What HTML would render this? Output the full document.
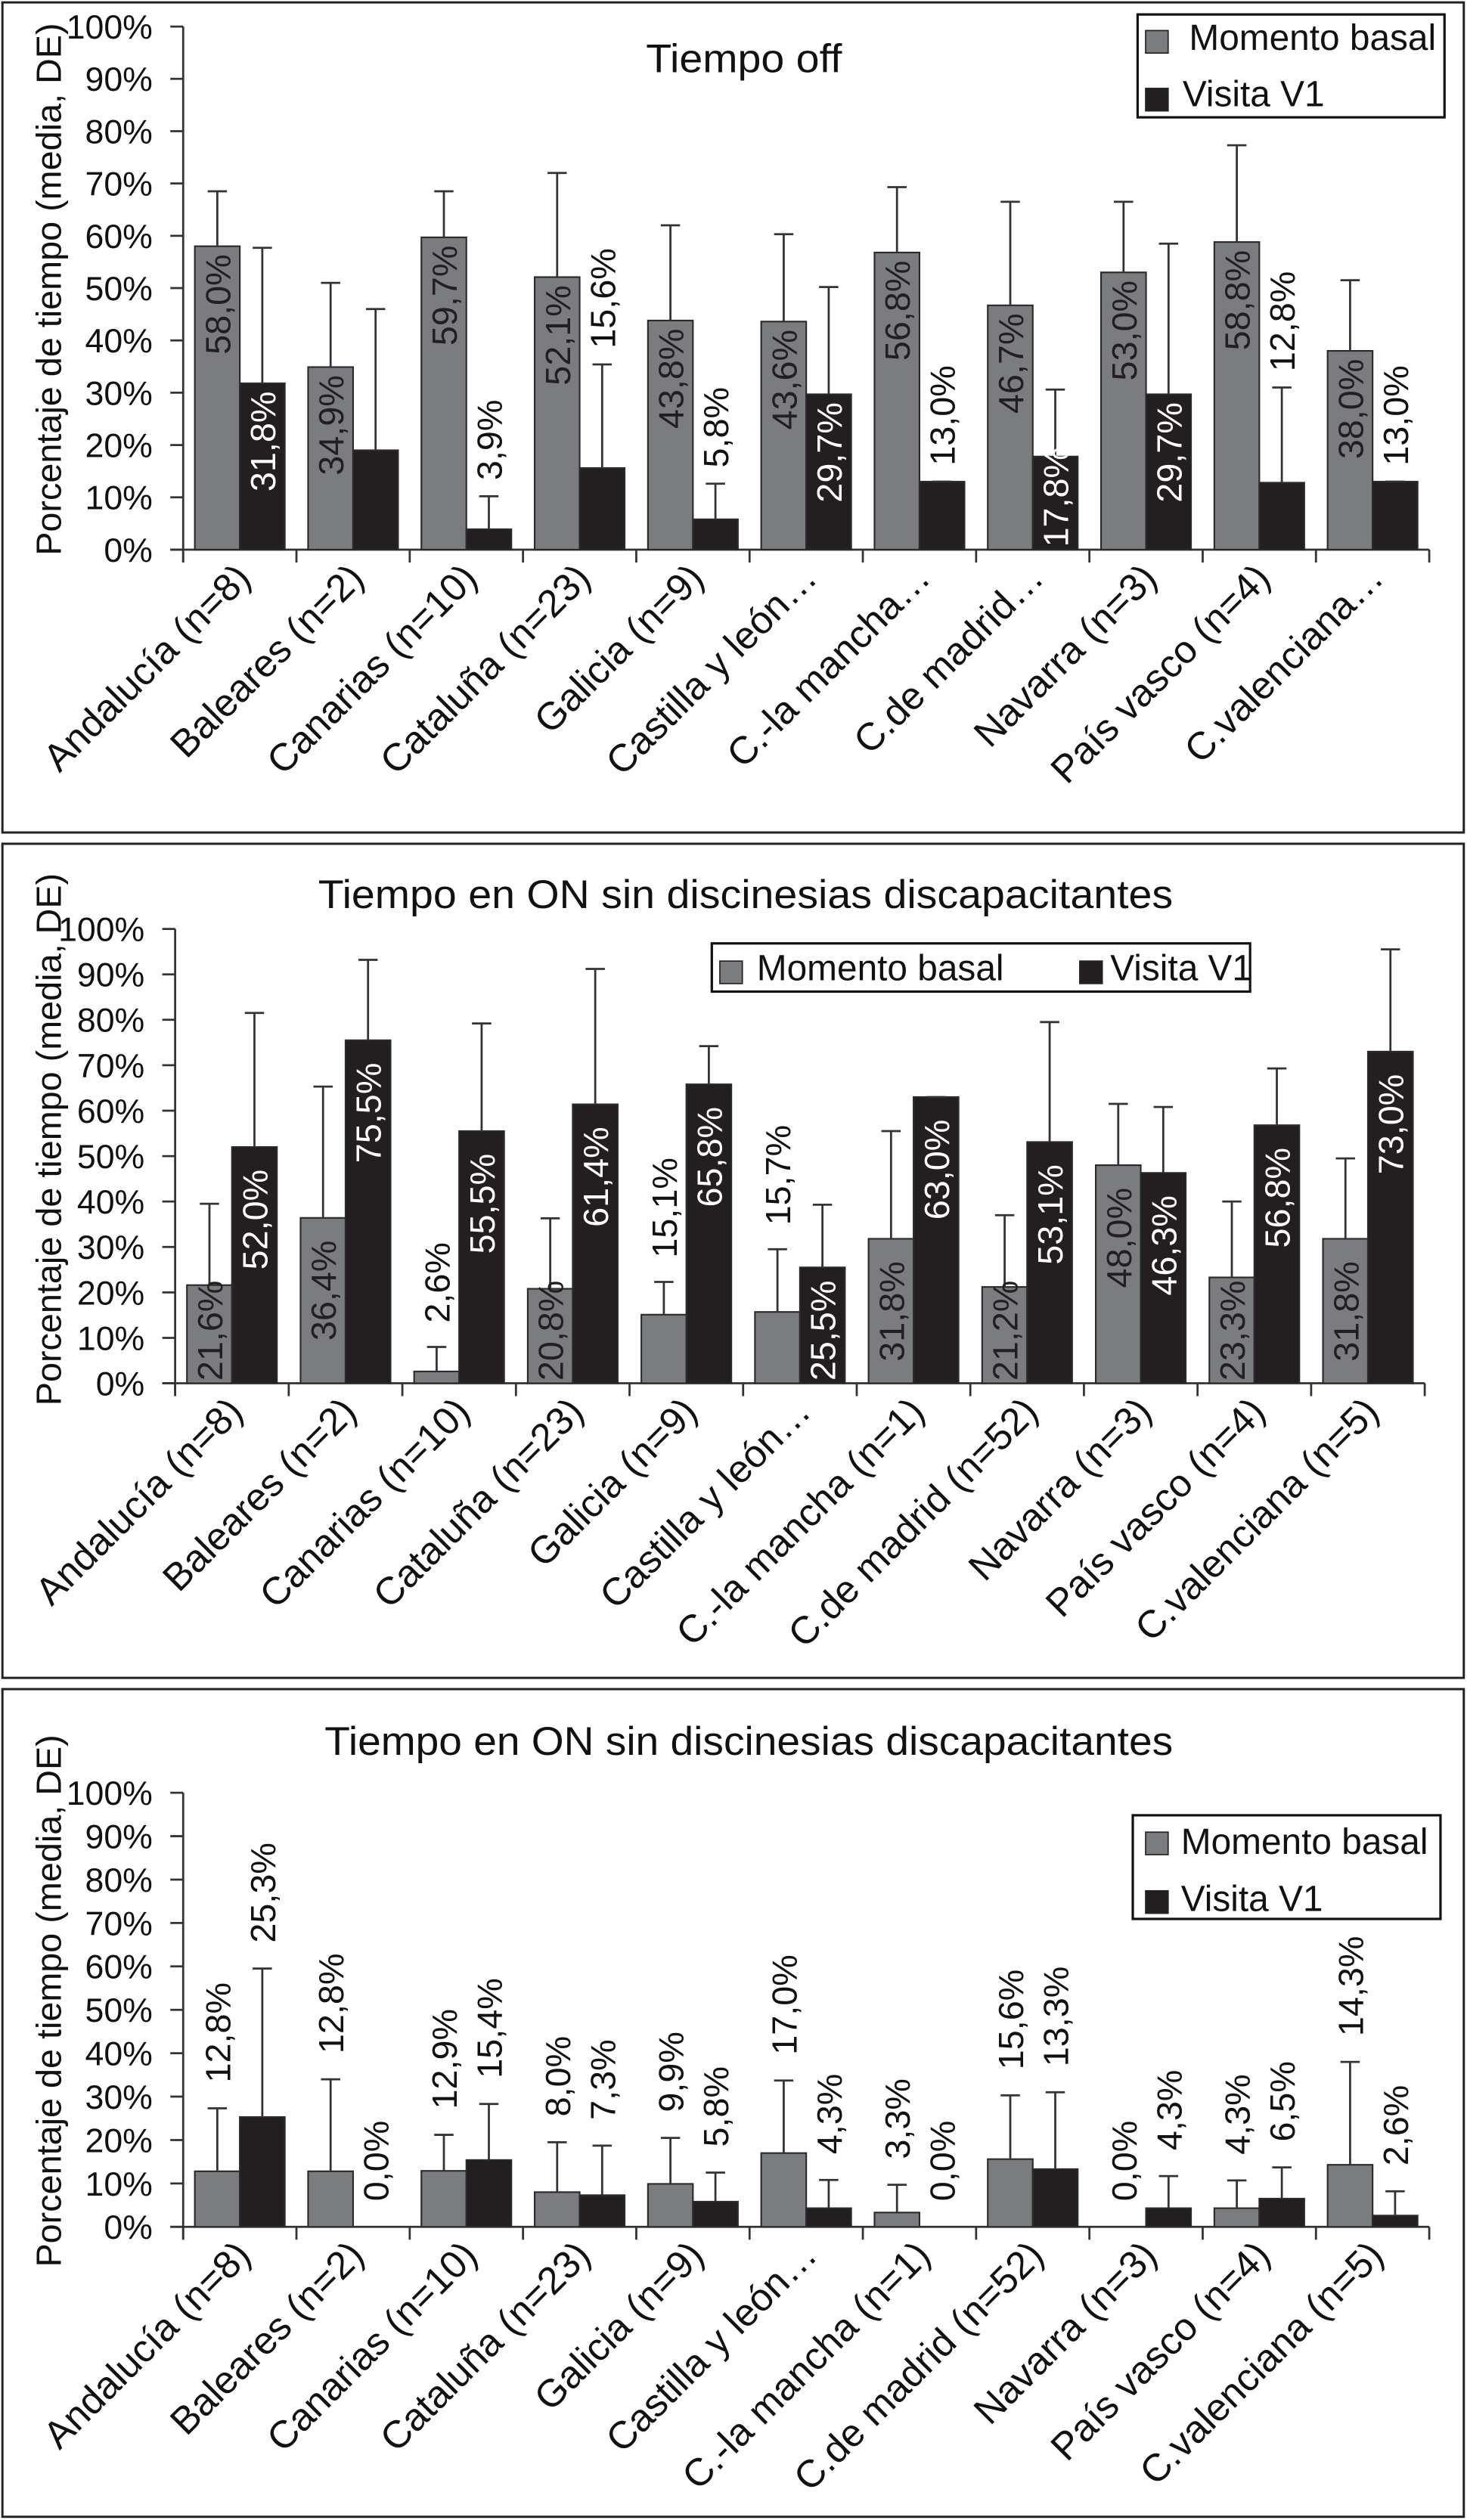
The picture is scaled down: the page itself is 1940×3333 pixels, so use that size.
<!DOCTYPE html>
<html><head><meta charset="utf-8"><title>Tiempo off / ON charts</title>
<style>
html,body{margin:0;padding:0;background:#fff;}
svg{display:block;font-family:"Liberation Sans",Arial,sans-serif;}
</style></head>
<body>
<svg id="root" width="1940" height="3333" viewBox="0 0 913 1568" preserveAspectRatio="none" xmlns="http://www.w3.org/2000/svg"></svg>
<script>
// ---------- data ----------
const categoriesShort = ["Andalucía (n=8)","Baleares (n=2)","Canarias (n=10)","Cataluña (n=23)","Galicia (n=9)","Castilla y león…","C.-la mancha…","C.de madrid…","Navarra (n=3)","País vasco (n=4)","C.valenciana…"];
const categoriesFull = ["Andalucía (n=8)","Baleares (n=2)","Canarias (n=10)","Cataluña (n=23)","Galicia (n=9)","Castilla y león…","C.-la mancha (n=1)","C.de madrid (n=52)","Navarra (n=3)","País vasco (n=4)","C.valenciana (n=5)"];
const yTickLabels = ["0%","10%","20%","30%","40%","50%","60%","70%","80%","90%","100%"];
const yTickValues = [0,10,20,30,40,50,60,70,80,90,100];

// Chart 1 - Tiempo off
const basal1 = [58.0,34.9,59.7,52.1,43.8,43.6,56.8,46.7,53.0,58.8,38.0];
const visit1 = [31.8,19.0,3.9,15.6,5.8,29.7,13.0,17.8,29.7,12.8,13.0];
const basalErrTop1 = [68.5,51,68.5,72,62,60.3,69.3,66.5,66.5,77.3,51.5];
const visitErrTop1 = [57.7,46,10.2,35.4,12.6,50.2,13.0,30.6,58.5,31.0,13.0];
const visitHiddenLabels1 = [1];

// Chart 2 - Tiempo en ON sin discinesias discapacitantes
const basal2 = [21.6,36.4,2.6,20.8,15.1,15.7,31.8,21.2,48.0,23.3,31.8];
const visit2 = [52.0,75.5,55.5,61.4,65.8,25.5,63.0,53.1,46.3,56.8,73.0];
const basalErrTop2 = [39.5,65.3,8.0,36.3,22.3,29.5,55.5,37.0,61.5,40.0,49.5];
const visitErrTop2 = [81.5,93.2,79.2,91.2,74.2,39.3,63.0,79.5,60.8,69.3,95.5];

// Chart 3 - Tiempo en ON sin discinesias discapacitantes (2)
const basal3 = [12.8,12.8,12.9,8.0,9.9,17.0,3.3,15.6,0.0,4.3,14.3];
const visit3 = [25.3,0.0,15.4,7.3,5.8,4.3,0.0,13.3,4.3,6.5,2.6];
const basalErrTop3 = [27.3,34.0,21.2,19.5,20.5,33.7,9.7,30.3,0.0,10.7,38.0];
const visitErrTop3 = [59.5,0.0,28.3,18.7,12.5,10.8,0.0,31.0,11.7,13.7,8.2];

// ---------- drawing ----------
const NS = "http://www.w3.org/2000/svg";
const root = document.getElementById("root");
function mk(tag, attrs, parent, text){
  const e = document.createElementNS(NS, tag);
  for (const k in attrs) e.setAttribute(k, attrs[k]);
  if (text !== undefined) e.textContent = text;
  (parent||root).appendChild(e);
  return e;
}
function fmt(v){ return v.toFixed(1).replace(".", ",") + "%"; }

const GRAY = "#7b7c80", BLACK = "#231f20";

function drawChart(o){
  const g = mk("g", {});
  
  
  const pb = mk("rect", {x:1.5, y:o.panelTop, width:909.5, height:o.panelBottom-o.panelTop, fill:"none", stroke:"#222", "stroke-width":1.4}, g);
  
  
  const ax = o.axisX, y0 = o.y0, y100 = o.y100, cw = o.cw;
  const yS = v => y0 - (v/100)*(y0 - y100);
  const xC = i => ax + cw*(i+0.5);
  const t = mk("text", {x:o.titleX, y:o.titleY, "font-size":25, fill:"#111", textLength:o.titleLen, lengthAdjust:"spacingAndGlyphs"}, g, o.title);
  
  
  const yt = mk("text", {transform:`translate(38,${o.yTitleY}) rotate(-90)`, "text-anchor":"middle", "font-size":22, fill:"#111"}, g, "Porcentaje de tiempo (media, DE)");
  
  
  const yl = mk("line", {x1:ax, y1:y100, x2:ax, y2:y0+8, stroke:"#333", "stroke-width":1.3}, g);
  
  
  yTickValues.forEach((v,i)=>{
    const tk = mk("line", {x1:ax-8, y1:yS(v), x2:ax, y2:yS(v), stroke:"#333", "stroke-width":1.3}, g);
    
    
    const tl = mk("text", {x:ax-19, y:yS(v)+7.5, "text-anchor":"end", "font-size":21, fill:"#111"}, g, yTickLabels[i]);
    
    
  });
  const n = o.cats.length;
  const xl = mk("line", {x1:ax-8, y1:y0, x2:ax+cw*n, y2:y0, stroke:"#333", "stroke-width":1.3}, g);
  
  
  for (let i=0;i<=n;i++){
    const tk = mk("line", {x1:ax+cw*i, y1:y0, x2:ax+cw*i, y2:y0+8, stroke:"#333", "stroke-width":1.3}, g);
    
    
  }
  o.cats.forEach((c,i)=>{
    const cx = xC(i);
    const tl = mk("text", {transform:`translate(${cx+8},${y0+19}) rotate(-45)`, "text-anchor":"end", "font-size":24, fill:"#111"}, g, c);
    
    
  });
  const series = [
    {vals:o.basal, errs:o.basalErr, fill:GRAY, dx:-28, inColor:"#231f20", name:"basal", hidden:[]},
    {vals:o.visit, errs:o.visitErr, fill:BLACK, dx:0, inColor:"#ffffff", name:"visita", hidden:o.visitHidden||[]}
  ];
  series.forEach(s=>{
    s.vals.forEach((v,i)=>{
      const cx = xC(i), bx = cx + s.dx, bcx = bx + 14;
      const top = yS(v);
      if (v > 0){
        const r = mk("rect", {x:bx, y:top, width:28, height:y0-top, fill:s.fill, stroke:"#2a2a2a", "stroke-width":1}, g);
        
        
      }
      const e = s.errs[i];
      let eTop = top;
      if (v > 0 && e >= v){
        eTop = yS(e);
        const el = mk("path", {d:`M${bcx},${top} V${eTop} M${bcx-6},${eTop} H${bcx+6}`, stroke:"#333", "stroke-width":1.3, fill:"none"}, g);
        
        
      }
      if (s.hidden.indexOf(i) >= 0) return;
      const inside = v >= o.insideThreshold;
      let lb;
      if (inside){
        const endY = Math.min(top + o.inOff, y0 - 64);
        lb = mk("text", {transform:`translate(${bcx+8},${endY}) rotate(-90)`, "text-anchor":"end", "font-size":22, fill:s.inColor}, g, fmt(v));
      } else {
        const startY = eTop - o.gap;
        lb = mk("text", {transform:`translate(${bcx+8},${startY}) rotate(-90)`, "text-anchor":"start", "font-size":22, fill:"#111"}, g, fmt(v));
      }
      
      
    });
  });
  const L = o.legend;
  const lg = mk("g", {}, g);
  
  
  mk("rect", {x:L.x, y:L.y, width:L.w, height:L.h, fill:"#fff", stroke:"#111", "stroke-width":1.5}, lg);
  L.items.forEach((it,k)=>{
    const sw = mk("rect", {x:it.sx, y:it.sy, width:14, height:14, fill:k===0?GRAY:BLACK, stroke:"#222", "stroke-width":0.8}, lg);
    
    
    const tx = mk("text", {x:it.tx, y:it.ty, "font-size":22.5, fill:"#111"}, lg, it.label);
    
    
  });
}

drawChart({name:"chart-tiempo-off", panelTop:1.5, panelBottom:518, title:"Tiempo off", titleX:402, titleY:45, titleLen:122,
  yTitleY:180, axisX:114, y0:342, y100:16.5, cw:70.5, cats:categoriesShort,
  basal:basal1, visit:visit1, basalErr:basalErrTop1, visitErr:visitErrTop1, visitHidden:visitHiddenLabels1,
  insideThreshold:17, inOff:5, gap:10,
  legend:{x:708, y:9, w:191, h:64, items:[
    {sx:713, sy:19, tx:740, ty:31, label:"Momento basal"},
    {sx:713, sy:55, tx:736, ty:66, label:"Visita V1"}]}});

drawChart({name:"chart-on-sin-discinesias-1", panelTop:525, panelBottom:1044, title:"Tiempo en ON sin discinesias discapacitantes", titleX:198, titleY:565, titleLen:532,
  yTitleY:709, axisX:109, y0:860.7, y100:578, cw:70.7, cats:categoriesFull,
  basal:basal2, visit:visit2, basalErr:basalErrTop2, visitErr:visitErrTop2,
  insideThreshold:17, inOff:14, gap:15,
  legend:{x:443, y:587, w:335, h:30, items:[
    {sx:448, sy:598, tx:471, ty:610, label:"Momento basal"},
    {sx:672, sy:598, tx:691, ty:610, label:"Visita V1"}]}});

drawChart({name:"chart-on-sin-discinesias-2", panelTop:1051, panelBottom:1566, title:"Tiempo en ON sin discinesias discapacitantes", titleX:202, titleY:1092, titleLen:528,
  yTitleY:1245, axisX:114, y0:1385.6, y100:1115.5, cw:70.5, cats:categoriesFull,
  basal:basal3, visit:visit3, basalErr:basalErrTop3, visitErr:visitErrTop3,
  insideThreshold:1000, inOff:10, gap:16,
  legend:{x:705, y:1129.5, w:191.5, h:64.5, items:[
    {sx:713, sy:1140, tx:735, ty:1153.5, label:"Momento basal"},
    {sx:713, sy:1176.5, tx:735, ty:1189, label:"Visita V1"}]}});
</script>
</body></html>
